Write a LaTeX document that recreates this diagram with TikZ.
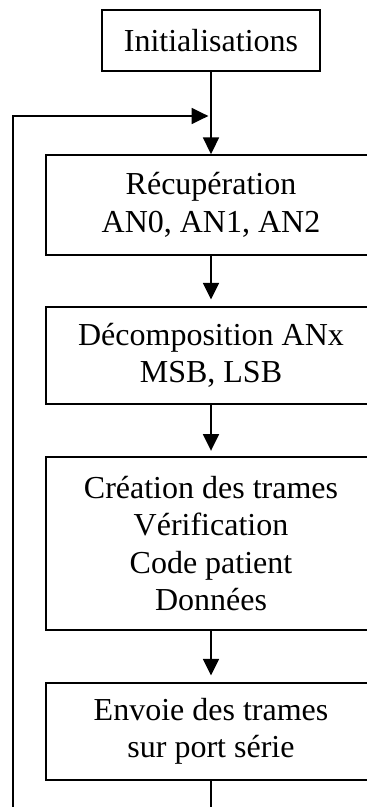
\documentclass[tikz,border=0pt]{standalone}
\usepackage{fontspec}
\setmainfont{Liberation Serif}
\usetikzlibrary{arrows.meta}
\tikzset{
  etape/.style={draw, line width=1.3pt, align=center, inner sep=0pt,
    font=\fontsize{24}{28.1}\selectfont},
  fleche/.style={-{Triangle[length=12.5pt,width=12pt]}, line width=1.3pt},
}
\begin{document}
\begin{tikzpicture}[x=0.75pt,y=-0.75pt]
        \useasboundingbox (0,0) rectangle (367,807);
        \clip (0,0) rectangle (367,807);
        % Boxes
        \node[etape, minimum width=164pt, minimum height=45.75pt] (init) at (211,40.5) {Initialisations};
        \node[etape, minimum width=247.5pt, minimum height=75pt] (recup) at (211,205) {Récupération\\AN0, AN1, AN2};
        \node[etape, minimum width=247.5pt, minimum height=72.75pt] (decomp) at (211,355.5) {Décomposition ANx\\MSB, LSB};
        \node[etape, minimum width=247.5pt, minimum height=129.75pt] (creat) at (211,543.5) {Création des trames\\Vérification\\Code patient\\Données};
        \node[etape, minimum width=247.5pt, minimum height=72.75pt] (envoi) at (211,731.5) {Envoie des trames\\sur port série};
        % Flow
        \draw[fleche] (init) -- (recup);
        \draw[fleche, shorten >=5pt] (recup) -- (decomp);
        \draw[fleche, shorten >=4pt] (decomp) -- (creat);
        \draw[fleche, shorten >=5pt] (creat) -- (envoi);
        % Loop back
        \coordinate (bas) at (13,830);
        \coordinate (jonction) at (211,116);
        \draw[fleche, shorten >=2pt] (envoi.south) -- (envoi.south |- bas) -- (bas) -- (bas |- jonction) -- (jonction);
    \end{tikzpicture}
\end{document}
